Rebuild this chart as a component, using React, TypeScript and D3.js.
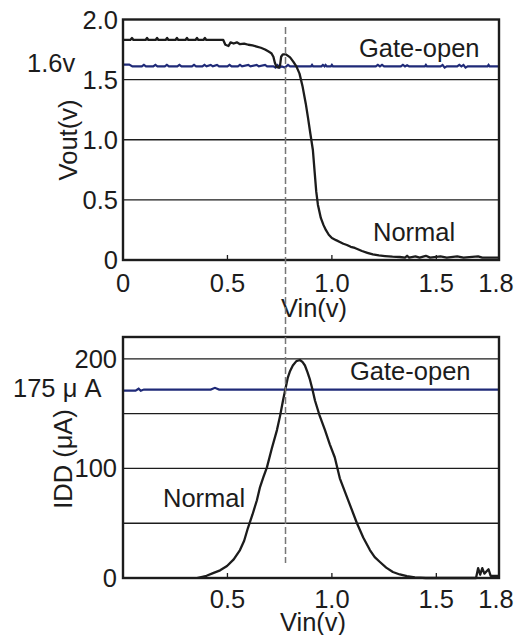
import React from "react";
import * as d3 from "d3";

// ---------- data ----------
const vinTicksTop = [0, 0.5, 1.0, 1.5, 1.8];
const vinTickLabelsTop = ["0", "0.5", "1.0", "1.5", "1.8"];
const vinTicksBottom = [0.5, 1.0, 1.5, 1.8];
const vinTickLabelsBottom = ["0.5", "1.0", "1.5", "1.8"];
const voutTicks = [0, 0.5, 1.0, 1.5, 2.0];
const voutTickLabels = ["0", "0.5", "1.0", "1.5", "2.0"];
const voutGrid = [0.5, 1.0, 1.5];
const iddTicks = [0, 100, 200];
const iddTickLabels = ["0", "100", "200"];
const iddGrid = [50, 100, 150, 200];
const dashedVin = 0.778;

// Vout normal (black)
const voutNormal: [number, number][] = [
  [0, 1.83], [0.035, 1.83], [0.043, 1.846], [0.05, 1.83], [0.108, 1.83], [0.115, 1.846], [0.122, 1.83],
  [0.156, 1.83], [0.163, 1.846], [0.17, 1.83], [0.204, 1.83], [0.211, 1.846], [0.218, 1.83],
  [0.251, 1.83], [0.258, 1.846], [0.265, 1.83], [0.299, 1.83], [0.306, 1.846], [0.313, 1.83],
  [0.347, 1.83], [0.354, 1.846], [0.361, 1.83], [0.385, 1.83], [0.392, 1.846], [0.399, 1.83],
  [0.48, 1.83], [0.49, 1.79], [0.505, 1.78], [0.515, 1.81], [0.53, 1.8], [0.545, 1.81], [0.56, 1.795],
  [0.58, 1.8], [0.6, 1.79], [0.62, 1.785], [0.64, 1.775], [0.66, 1.765], [0.68, 1.75], [0.695, 1.735],
  [0.71, 1.72], [0.72, 1.69], [0.727, 1.64], [0.735, 1.605], [0.745, 1.6], [0.752, 1.62], [0.757, 1.69],
  [0.765, 1.71], [0.78, 1.71], [0.8, 1.685], [0.815, 1.65], [0.83, 1.61], [0.845, 1.55], [0.86, 1.44],
  [0.875, 1.3], [0.885, 1.19], [0.897, 1.05], [0.909, 0.915], [0.918, 0.72], [0.925, 0.57], [0.933, 0.46],
  [0.947, 0.35], [0.96, 0.29], [0.971, 0.25], [0.985, 0.21], [1.0, 0.183], [1.02, 0.165], [1.038, 0.15],
  [1.055, 0.135], [1.072, 0.125], [1.09, 0.11], [1.11, 0.1], [1.13, 0.085], [1.144, 0.075], [1.17, 0.06],
  [1.196, 0.046], [1.225, 0.038], [1.254, 0.033], [1.29, 0.028], [1.325, 0.025], [1.35, 0.02],
  [1.36, 0.035], [1.37, 0.02], [1.4, 0.03], [1.42, 0.02], [1.45, 0.035], [1.47, 0.02], [1.52, 0.03],
  [1.55, 0.02], [1.6, 0.03], [1.63, 0.02], [1.7, 0.03], [1.72, 0.02], [1.8, 0.02],
];

// Vout gate-open (blue)
const voutGate: [number, number][] = [
  [0, 1.625], [0.03, 1.625], [0.045, 1.61], [0.09, 1.61], [0.1, 1.622], [0.11, 1.61], [0.145, 1.61],
  [0.155, 1.622], [0.165, 1.61], [0.2, 1.61], [0.21, 1.622], [0.22, 1.61], [0.26, 1.61], [0.27, 1.622],
  [0.28, 1.61], [0.33, 1.61], [0.34, 1.622], [0.35, 1.61], [0.38, 1.61], [0.39, 1.622], [0.4, 1.61],
  [0.42, 1.622], [0.43, 1.61], [0.45, 1.622], [0.46, 1.61], [0.5, 1.61], [0.51, 1.622], [0.52, 1.61],
  [0.55, 1.61], [0.56, 1.622], [0.57, 1.61], [0.6, 1.622], [0.61, 1.61], [0.64, 1.622], [0.65, 1.61],
  [0.68, 1.622], [0.69, 1.61], [0.72, 1.61], [0.73, 1.6], [0.74, 1.62], [0.75, 1.6], [0.76, 1.61],
  [0.775, 1.6], [0.79, 1.622], [0.8, 1.61], [0.9, 1.61], [0.905, 1.622], [0.91, 1.61], [0.95, 1.61],
  [0.957, 1.622], [0.965, 1.61], [0.97, 1.622], [0.976, 1.61], [0.995, 1.61], [1.0, 1.622], [1.005, 1.61],
  [1.21, 1.61], [1.22, 1.622], [1.23, 1.61], [1.24, 1.622], [1.25, 1.61], [1.33, 1.61], [1.34, 1.622],
  [1.35, 1.61], [1.36, 1.62], [1.37, 1.61], [1.445, 1.61], [1.45, 1.622], [1.455, 1.61], [1.52, 1.61],
  [1.53, 1.622], [1.54, 1.6], [1.55, 1.61], [1.6, 1.61], [1.61, 1.622], [1.62, 1.61], [1.63, 1.622],
  [1.64, 1.6], [1.65, 1.61], [1.745, 1.61], [1.75, 1.622], [1.755, 1.61], [1.8, 1.61],
];

// IDD normal (black)
const iddNormal: [number, number][] = [
  [0.354, 0], [0.4, 2], [0.431, 4.5], [0.465, 7], [0.498, 11], [0.53, 17], [0.56, 25.5], [0.58, 34],
  [0.598, 45.6], [0.62, 58], [0.641, 71], [0.656, 83], [0.672, 92], [0.689, 101], [0.712, 118],
  [0.737, 135], [0.752, 148], [0.766, 162], [0.778, 173], [0.789, 183], [0.8, 189], [0.813, 194],
  [0.83, 198], [0.847, 199], [0.86, 197], [0.871, 194], [0.883, 188], [0.895, 181], [0.907, 172],
  [0.919, 162], [0.94, 149], [0.967, 135], [0.99, 122], [1.014, 110], [1.038, 91], [1.08, 70],
  [1.12, 50], [1.15, 37], [1.182, 25.5], [1.205, 19], [1.23, 14.6], [1.26, 9.5], [1.292, 5.5],
  [1.325, 3.2], [1.359, 1.8], [1.397, 0.5], [1.45, 0], [1.69, 0], [1.7, 9], [1.71, 3], [1.72, 9],
  [1.73, 4], [1.75, 8], [1.76, 2], [1.8, 2],
];

// IDD gate-open (blue)
const iddGate: [number, number][] = [
  [0, 171], [0.06, 171], [0.075, 172.8], [0.085, 171], [0.1, 172], [0.42, 172], [0.44, 173.6],
  [0.46, 172], [1.8, 172],
];

// ---------- layout ----------
const W = 521;
const H = 635;
const X0 = 123;
const X1 = 499;
const topY0 = 260;
const topY1 = 19.5;
const botY0 = 578;
const botY1 = 337;
const font = "'Liberation Sans', Arial, sans-serif";
const FS = 25.5;
const ink = "#1c1c1c";
const blue = "#1f2a78";

export default function App() {
  const x = d3.scaleLinear().domain([0, 1.8]).range([X0, X1]);
  const yTop = d3.scaleLinear().domain([0, 2]).range([topY0, topY1]);
  const yBot = d3.scaleLinear().domain([0, 220]).range([botY0, botY1]);

  const lineTop = d3.line<[number, number]>().x((d) => x(d[0])).y((d) => yTop(d[1]));
  const lineBot = d3.line<[number, number]>().x((d) => x(d[0])).y((d) => yBot(d[1]));

  const textProps = { fontFamily: font, fontSize: FS, fill: ink };

  return (
    <svg width={W} height={H} style={{ position: "absolute", left: 0, top: 0, background: "#fff" }}>
      <rect x={0} y={0} width={W} height={H} fill="#fff" />

      {/* ===== Top chart ===== */}
      {voutGrid.map((v) => (
        <line key={"gt" + v} x1={X0} x2={X1} y1={yTop(v)} y2={yTop(v)} stroke={ink} strokeWidth={1.3} />
      ))}
      {[0.5, 1.0, 1.5].map((v) => (
        <line key={"tt" + v} x1={x(v)} x2={x(v)} y1={topY0} y2={topY0 - 5} stroke={ink} strokeWidth={1.3} />
      ))}
      <path d={lineTop(voutGate) || ""} fill="none" stroke={blue} strokeWidth={2.2} />
      <path d={lineTop(voutNormal) || ""} fill="none" stroke={ink} strokeWidth={2.3} strokeLinejoin="round" />
      <rect x={X0} y={topY1} width={X1 - X0} height={topY0 - topY1} fill="none" stroke={ink} strokeWidth={2.4} />

      {voutTicks.map((v, i) => (
        <text key={"yl" + v} x={118} y={yTop(v) + 9} textAnchor="end" {...textProps}>
          {voutTickLabels[i]}
        </text>
      ))}
      {vinTicksTop.map((v, i) => (
        <text key={"xl" + v} x={v === 1.8 ? 496 : x(v)} y={292} textAnchor="middle" {...textProps}>
          {vinTickLabelsTop[i]}
        </text>
      ))}
      <text x={27} y={72} {...textProps}>1.6v</text>
      <text x={359} y={57} {...textProps}>Gate-open</text>
      <text x={373} y={241} {...textProps}>Normal</text>
      <text x={314} y={317} textAnchor="middle" {...textProps}>Vin(v)</text>
      <text transform="translate(68,140) rotate(-90)" textAnchor="middle" dominantBaseline="central" {...textProps}>
        Vout(v)
      </text>

      {/* ===== Bottom chart ===== */}
      {iddGrid.map((v) => (
        <line key={"gb" + v} x1={X0} x2={X1} y1={yBot(v)} y2={yBot(v)} stroke={ink} strokeWidth={1.3} />
      ))}
      {[0.5, 1.0, 1.5].map((v) => (
        <line key={"tb" + v} x1={x(v)} x2={x(v)} y1={botY0} y2={botY0 - 5} stroke={ink} strokeWidth={1.3} />
      ))}
      <path d={lineBot(iddGate) || ""} fill="none" stroke={blue} strokeWidth={2.2} />
      <path d={lineBot(iddNormal) || ""} fill="none" stroke={ink} strokeWidth={2.3} strokeLinejoin="round" />
      <rect x={X0} y={botY1} width={X1 - X0} height={botY0 - botY1} fill="none" stroke={ink} strokeWidth={2.4} />

      {iddTicks.map((v, i) => (
        <text key={"yb" + v} x={117} y={yBot(v) + 9} textAnchor="end" {...textProps}>
          {iddTickLabels[i]}
        </text>
      ))}
      {vinTicksBottom.map((v, i) => (
        <text key={"xb" + v} x={v === 1.8 ? 496 : x(v)} y={608} textAnchor="middle" {...textProps}>
          {vinTickLabelsBottom[i]}
        </text>
      ))}
      <text x={13} y={397} {...textProps}>175 μ A</text>
      <text x={350} y={380} {...textProps}>Gate-open</text>
      <text x={163} y={507} {...textProps}>Normal</text>
      <text x={313} y={631} textAnchor="middle" {...textProps}>Vin(v)</text>
      <text transform="translate(63,459) rotate(-90)" textAnchor="middle" dominantBaseline="central" {...textProps}>
        IDD (μA)
      </text>

      {/* dashed reference line across both charts */}
      <line
        x1={x(dashedVin)}
        x2={x(dashedVin)}
        y1={27}
        y2={563}
        stroke="#777"
        strokeWidth={1.5}
        strokeDasharray="7 3"
      />
    </svg>
  );
}
